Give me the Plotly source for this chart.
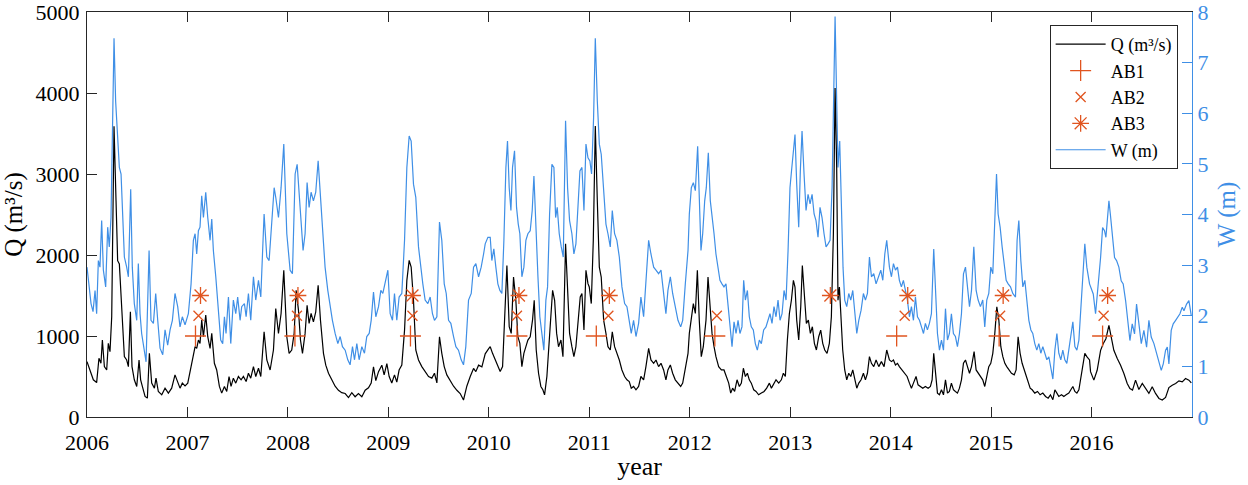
"""Discharge Q and water level W with the AB1/AB2/AB3 event markers, 2006-2016."""
import plotly.graph_objects as go

# discharge Q (m3/s)
q_year = [
    2006.000, 2006.030, 2006.063, 2006.096, 2006.119, 2006.139, 2006.153, 2006.173, 2006.196, 2006.212,
    2006.229, 2006.246, 2006.269, 2006.289, 2006.305, 2006.322, 2006.339, 2006.355, 2006.372, 2006.395,
    2006.412, 2006.432, 2006.448, 2006.471, 2006.495, 2006.518, 2006.534, 2006.551, 2006.578, 2006.601,
    2006.621, 2006.644, 2006.671, 2006.687, 2006.710, 2006.744, 2006.777, 2006.810, 2006.843, 2006.876,
    2006.903, 2006.926, 2006.949, 2006.976,
    2007.003, 2007.036, 2007.059, 2007.076, 2007.092, 2007.109, 2007.125, 2007.142, 2007.159, 2007.182,
    2007.202, 2007.225, 2007.242, 2007.268, 2007.291, 2007.318, 2007.341, 2007.368, 2007.391, 2007.414,
    2007.434, 2007.457, 2007.481, 2007.507, 2007.534, 2007.557, 2007.584, 2007.607, 2007.630, 2007.657,
    2007.680, 2007.707, 2007.730, 2007.763, 2007.790, 2007.823, 2007.856, 2007.879, 2007.906, 2007.932,
    2007.959, 2007.989,
    2008.012, 2008.038, 2008.062, 2008.082, 2008.105, 2008.125, 2008.145, 2008.171, 2008.191, 2008.211,
    2008.231, 2008.254, 2008.277, 2008.301, 2008.324, 2008.354, 2008.377, 2008.404, 2008.437, 2008.470,
    2008.503, 2008.536, 2008.570, 2008.603, 2008.636, 2008.669, 2008.702, 2008.736, 2008.769, 2008.802,
    2008.829, 2008.852, 2008.875, 2008.902, 2008.935, 2008.958, 2008.985,
    2009.008, 2009.034, 2009.061, 2009.084, 2009.107, 2009.134, 2009.161, 2009.184, 2009.207, 2009.227,
    2009.250, 2009.273, 2009.300, 2009.333, 2009.366, 2009.400, 2009.433, 2009.459, 2009.483, 2009.509,
    2009.532, 2009.556, 2009.582, 2009.615, 2009.649, 2009.682, 2009.715, 2009.748, 2009.781, 2009.815,
    2009.848, 2009.871, 2009.898, 2009.931, 2009.964, 2009.997,
    2010.014, 2010.037, 2010.064, 2010.090, 2010.113, 2010.137, 2010.157, 2010.180, 2010.203, 2010.223,
    2010.246, 2010.269, 2010.289, 2010.309, 2010.329, 2010.349, 2010.369, 2010.389, 2010.412, 2010.435,
    2010.452, 2010.472, 2010.495, 2010.518, 2010.538, 2010.555, 2010.578, 2010.595, 2010.615, 2010.635,
    2010.655, 2010.675, 2010.694, 2010.718, 2010.738, 2010.764, 2010.784, 2010.804, 2010.827, 2010.847,
    2010.867, 2010.887, 2010.910, 2010.927, 2010.947, 2010.967, 2010.987,
    2011.000, 2011.020, 2011.040, 2011.060, 2011.080, 2011.100, 2011.119, 2011.143, 2011.166, 2011.186,
    2011.209, 2011.229, 2011.252, 2011.275, 2011.299, 2011.325, 2011.352, 2011.375, 2011.398, 2011.418,
    2011.441, 2011.465, 2011.491, 2011.514, 2011.541, 2011.564, 2011.591, 2011.614, 2011.641, 2011.664,
    2011.690, 2011.714, 2011.740, 2011.763, 2011.783, 2011.807, 2011.830, 2011.856, 2011.883, 2011.910,
    2011.930, 2011.956, 2011.983,
    2011.996, 2012.016, 2012.036, 2012.056, 2012.076, 2012.095, 2012.115, 2012.135, 2012.162, 2012.182,
    2012.202, 2012.222, 2012.242, 2012.261, 2012.288, 2012.315, 2012.341, 2012.368, 2012.388, 2012.408,
    2012.427, 2012.447, 2012.471, 2012.494, 2012.514, 2012.534, 2012.554, 2012.574, 2012.593, 2012.613,
    2012.637, 2012.660, 2012.686, 2012.713, 2012.740, 2012.766, 2012.793, 2012.813, 2012.836, 2012.859,
    2012.886, 2012.912, 2012.932, 2012.952, 2012.972, 2012.992,
    2013.012, 2013.032, 2013.048, 2013.065, 2013.085, 2013.105, 2013.121, 2013.141, 2013.161, 2013.181,
    2013.201, 2013.221, 2013.241, 2013.261, 2013.284, 2013.304, 2013.324, 2013.344, 2013.367, 2013.390,
    2013.410, 2013.430, 2013.447, 2013.463, 2013.476, 2013.490, 2013.506, 2013.523, 2013.543, 2013.563,
    2013.583, 2013.603, 2013.623, 2013.643, 2013.663, 2013.683, 2013.706, 2013.729, 2013.749, 2013.769,
    2013.789, 2013.809, 2013.832, 2013.855, 2013.882, 2013.908, 2013.935, 2013.961, 2013.988,
    2014.008, 2014.028, 2014.048, 2014.068, 2014.087, 2014.114, 2014.141, 2014.164, 2014.187, 2014.207,
    2014.227, 2014.253, 2014.273, 2014.297, 2014.320, 2014.346, 2014.373, 2014.396, 2014.413, 2014.429,
    2014.446, 2014.466, 2014.486, 2014.506, 2014.526, 2014.546, 2014.566, 2014.585, 2014.605, 2014.625,
    2014.645, 2014.665, 2014.685, 2014.705, 2014.725, 2014.745, 2014.765, 2014.785, 2014.805, 2014.831,
    2014.851, 2014.871, 2014.894, 2014.917, 2014.937, 2014.957, 2014.977, 2014.997,
    2015.017, 2015.037, 2015.057, 2015.077, 2015.097, 2015.117, 2015.137, 2015.156, 2015.176, 2015.203,
    2015.230, 2015.249, 2015.269, 2015.289, 2015.309, 2015.329, 2015.349, 2015.369, 2015.389, 2015.409,
    2015.435, 2015.462, 2015.488, 2015.515, 2015.542, 2015.568, 2015.591, 2015.615, 2015.635, 2015.655,
    2015.674, 2015.701, 2015.724, 2015.747, 2015.774, 2015.794, 2015.814, 2015.834, 2015.854, 2015.874,
    2015.894, 2015.913, 2015.933, 2015.953, 2015.980,
    2015.990, 2016.023, 2016.056, 2016.090, 2016.116, 2016.143, 2016.173, 2016.196, 2016.222, 2016.256,
    2016.289, 2016.322, 2016.355, 2016.382, 2016.408, 2016.438, 2016.471, 2016.505, 2016.538, 2016.571,
    2016.604, 2016.637, 2016.671, 2016.704, 2016.737, 2016.770, 2016.803, 2016.837, 2016.870, 2016.903,
    2016.936, 2016.969, 2016.993,
]
q_flow = [
    684, 580, 459, 425, 725, 663, 950, 622, 580, 909,
    807, 1237, 3590, 2670, 1930, 1890, 1520, 1030, 745, 704,
    622, 1300, 622, 459, 377, 704, 459, 377, 254, 233,
    786, 418, 356, 479, 315, 274, 356, 295, 356, 520,
    418, 356, 418, 385,
    418, 622, 766, 868, 848, 950, 909, 1196, 991, 1257,
    991, 848, 1032, 663, 580, 377, 295, 377, 315, 500,
    377, 479, 418, 500, 459, 500, 438, 540, 479, 622,
    500, 602, 500, 1052, 704, 580, 827, 1339, 1032, 1278,
    1810, 991,
    786, 827, 1032, 1564, 1319, 950, 786, 1032, 1380, 1155,
    1278, 1175, 1298, 1626, 1196, 786, 640, 540, 460, 380,
    330, 300, 290, 240, 300, 250, 290, 250, 330, 360,
    420, 620, 450, 560, 640, 520, 660,
    500, 420, 520, 430, 580, 640, 1073, 1687, 1933, 1851,
    1441, 827, 704, 622, 560, 500, 480, 540, 420, 991,
    786, 622, 520, 450, 380, 330, 290, 210, 380, 500,
    600, 560, 640, 620, 780, 840,
    868, 786, 704, 622, 561, 622, 1237, 1871, 1114, 1032,
    1728, 1441, 991, 909, 622, 786, 868, 950, 991, 1196,
    1441, 827, 540, 377, 336, 274, 500, 868, 1196, 1564,
    1441, 1032, 868, 950, 745, 2138, 1523, 1032, 868, 745,
    868, 1196, 1482, 1523, 1073, 1810, 1646,
    1605, 1400, 2179, 3591, 2670, 1851, 1728, 1196, 1032, 868,
    827, 1052, 868, 786, 704, 581, 500, 459, 438, 356,
    377, 336, 377, 500, 459, 622, 848, 704, 663, 704,
    622, 663, 581, 459, 581, 643, 540, 459, 418, 377,
    418, 581, 786,
    1032, 1196, 1400, 1278, 1810, 1196, 745, 868, 1196, 1728,
    1360, 1032, 868, 745, 622, 581, 581, 500, 418, 295,
    356, 315, 459, 377, 418, 602, 500, 540, 459, 418,
    336, 315, 274, 295, 315, 356, 418, 356, 418, 459,
    418, 459, 540, 500, 950, 1278,
    1441, 1687, 1605, 1196, 950, 1360, 1871, 1523, 1155, 1196,
    1032, 1114, 909, 827, 991, 1073, 909, 827, 786, 909,
    1237, 2260, 4062, 3079, 1441, 1605, 1278, 827, 581, 459,
    540, 500, 581, 459, 356, 418, 459, 540, 459, 540,
    745, 663, 622, 704, 622, 684, 622, 827, 704,
    684, 704, 643, 663, 622, 581, 540, 500, 418, 356,
    418, 500, 397, 377, 356, 377, 356, 377, 459, 786,
    540, 295, 274, 336, 274, 459, 295, 315, 418, 336,
    315, 295, 356, 459, 663, 704, 622, 540, 622, 807,
    581, 540, 500, 459, 377, 500, 622, 663,
    786, 1032, 1360, 1196, 868, 745, 663, 622, 581, 540,
    520, 581, 991, 786, 663, 581, 500, 418, 356, 336,
    295, 315, 274, 295, 254, 233, 274, 213, 336, 295,
    254, 274, 254, 274, 295, 336, 377, 315, 295, 336,
    500, 663, 786, 745, 704,
    560, 455, 577, 823, 905, 966, 1130, 966, 823, 721,
    639, 536, 414, 352, 332, 455, 340, 414, 352, 291,
    373, 291, 229, 209, 242, 364, 393, 414, 446, 434,
    475, 455, 422,
]

# water level W (m)
w_year = [
    2006.000, 2006.020, 2006.040, 2006.060, 2006.080, 2006.096, 2006.113, 2006.129, 2006.146, 2006.163,
    2006.186, 2006.206, 2006.222, 2006.239, 2006.256, 2006.269, 2006.285, 2006.302, 2006.322, 2006.339,
    2006.355, 2006.372, 2006.395, 2006.412, 2006.435, 2006.451, 2006.471, 2006.495, 2006.511, 2006.528,
    2006.544, 2006.571, 2006.588, 2006.618, 2006.637, 2006.661, 2006.684, 2006.704, 2006.727, 2006.754,
    2006.777, 2006.803, 2006.827, 2006.850, 2006.876, 2006.903, 2006.926, 2006.949, 2006.976,
    2007.009, 2007.036, 2007.059, 2007.076, 2007.092, 2007.109, 2007.125, 2007.142, 2007.159, 2007.182,
    2007.202, 2007.225, 2007.242, 2007.258, 2007.282, 2007.308, 2007.331, 2007.351, 2007.368, 2007.384,
    2007.408, 2007.431, 2007.457, 2007.481, 2007.500, 2007.524, 2007.540, 2007.567, 2007.584, 2007.607,
    2007.630, 2007.657, 2007.680, 2007.707, 2007.730, 2007.763, 2007.790, 2007.813, 2007.839, 2007.863,
    2007.879, 2007.906, 2007.932, 2007.959, 2007.989,
    2008.022, 2008.045, 2008.072, 2008.092, 2008.111, 2008.131, 2008.151, 2008.171, 2008.191, 2008.211,
    2008.231, 2008.254, 2008.277, 2008.301, 2008.324, 2008.347, 2008.370, 2008.397, 2008.420, 2008.443,
    2008.470, 2008.497, 2008.520, 2008.543, 2008.570, 2008.596, 2008.619, 2008.643, 2008.663, 2008.686,
    2008.709, 2008.736, 2008.762, 2008.785, 2008.809, 2008.829, 2008.852, 2008.875, 2008.902, 2008.925,
    2008.945, 2008.968, 2008.995,
    2009.018, 2009.041, 2009.061, 2009.084, 2009.107, 2009.134, 2009.161, 2009.184, 2009.207, 2009.227,
    2009.250, 2009.273, 2009.300, 2009.323, 2009.343, 2009.366, 2009.393, 2009.416, 2009.439, 2009.459,
    2009.483, 2009.509, 2009.532, 2009.556, 2009.576, 2009.599, 2009.622, 2009.649, 2009.672, 2009.698,
    2009.725, 2009.748, 2009.771, 2009.798, 2009.825, 2009.848, 2009.871, 2009.898, 2009.924, 2009.948,
    2009.964, 2009.991,
    2010.014, 2010.030, 2010.050, 2010.070, 2010.090, 2010.110, 2010.130, 2010.150, 2010.170, 2010.186,
    2010.203, 2010.220, 2010.236, 2010.256, 2010.276, 2010.293, 2010.309, 2010.329, 2010.349, 2010.369,
    2010.389, 2010.412, 2010.432, 2010.449, 2010.469, 2010.489, 2010.508, 2010.528, 2010.548, 2010.568,
    2010.585, 2010.605, 2010.628, 2010.648, 2010.665, 2010.681, 2010.701, 2010.721, 2010.741, 2010.764,
    2010.784, 2010.804, 2010.827, 2010.847, 2010.867, 2010.887, 2010.907, 2010.927, 2010.947, 2010.967,
    2010.987,
    2011.006, 2011.023, 2011.043, 2011.060, 2011.080, 2011.100, 2011.119, 2011.143, 2011.166, 2011.186,
    2011.209, 2011.229, 2011.252, 2011.275, 2011.299, 2011.325, 2011.352, 2011.375, 2011.398, 2011.418,
    2011.441, 2011.465, 2011.491, 2011.514, 2011.541, 2011.564, 2011.591, 2011.614, 2011.641, 2011.664,
    2011.690, 2011.714, 2011.740, 2011.763, 2011.783, 2011.807, 2011.830, 2011.856, 2011.883, 2011.910,
    2011.930, 2011.956, 2011.983,
    2011.996, 2012.016, 2012.036, 2012.056, 2012.079, 2012.095, 2012.112, 2012.129, 2012.149, 2012.165,
    2012.185, 2012.205, 2012.222, 2012.242, 2012.261, 2012.281, 2012.301, 2012.321, 2012.341, 2012.361,
    2012.381, 2012.401, 2012.421, 2012.441, 2012.461, 2012.481, 2012.500, 2012.520, 2012.537, 2012.554,
    2012.574, 2012.593, 2012.613, 2012.633, 2012.653, 2012.673, 2012.693, 2012.713, 2012.736, 2012.759,
    2012.779, 2012.799, 2012.819, 2012.839, 2012.859, 2012.879, 2012.899, 2012.919, 2012.939, 2012.959,
    2012.979, 2012.998,
    2013.015, 2013.032, 2013.048, 2013.065, 2013.085, 2013.101, 2013.118, 2013.138, 2013.158, 2013.178,
    2013.198, 2013.218, 2013.238, 2013.257, 2013.277, 2013.297, 2013.317, 2013.337, 2013.357, 2013.377,
    2013.397, 2013.417, 2013.433, 2013.447, 2013.463, 2013.476, 2013.493, 2013.510, 2013.526, 2013.543,
    2013.563, 2013.583, 2013.603, 2013.623, 2013.643, 2013.663, 2013.683, 2013.706, 2013.729, 2013.749,
    2013.769, 2013.789, 2013.809, 2013.832, 2013.855, 2013.882, 2013.902, 2013.922, 2013.942, 2013.961,
    2013.988,
    2014.008, 2014.028, 2014.048, 2014.068, 2014.087, 2014.107, 2014.127, 2014.147, 2014.167, 2014.187,
    2014.207, 2014.227, 2014.247, 2014.267, 2014.287, 2014.307, 2014.327, 2014.346, 2014.366, 2014.386,
    2014.406, 2014.429, 2014.446, 2014.466, 2014.486, 2014.506, 2014.526, 2014.546, 2014.566, 2014.585,
    2014.605, 2014.625, 2014.645, 2014.665, 2014.685, 2014.705, 2014.725, 2014.745, 2014.765, 2014.785,
    2014.805, 2014.828, 2014.851, 2014.871, 2014.894, 2014.917, 2014.937, 2014.957, 2014.977, 2014.997,
    2015.017, 2015.037, 2015.054, 2015.070, 2015.090, 2015.110, 2015.130, 2015.150, 2015.170, 2015.193,
    2015.216, 2015.243, 2015.259, 2015.276, 2015.296, 2015.316, 2015.336, 2015.356, 2015.376, 2015.396,
    2015.415, 2015.435, 2015.455, 2015.475, 2015.495, 2015.515, 2015.535, 2015.555, 2015.575, 2015.595,
    2015.615, 2015.635, 2015.655, 2015.674, 2015.694, 2015.714, 2015.734, 2015.754, 2015.774, 2015.794,
    2015.814, 2015.834, 2015.854, 2015.874, 2015.894, 2015.913, 2015.933, 2015.953, 2015.980,
    2016.017, 2016.040, 2016.063, 2016.090, 2016.110, 2016.129, 2016.143, 2016.156, 2016.173, 2016.189,
    2016.206, 2016.229, 2016.249, 2016.272, 2016.295, 2016.315, 2016.339, 2016.362, 2016.382, 2016.405,
    2016.428, 2016.448, 2016.471, 2016.495, 2016.521, 2016.548, 2016.571, 2016.594, 2016.621, 2016.647,
    2016.671, 2016.694, 2016.714, 2016.737, 2016.754, 2016.770, 2016.793, 2016.813, 2016.837, 2016.860,
    2016.880, 2016.903, 2016.920, 2016.946, 2016.969, 2016.993,
]
w_level = [
    2.96, 2.63, 2.24, 2.08, 2.50, 2.04, 3.09, 2.96, 3.88, 2.90,
    2.57, 3.75, 3.36, 3.94, 5.58, 7.48, 6.24, 5.52, 4.93, 4.80,
    3.88, 3.16, 2.96, 2.77, 4.50, 2.96, 2.24, 1.91, 3.03, 2.04,
    1.65, 1.32, 1.09, 3.29, 1.91, 1.85, 2.44, 1.91, 1.36, 1.23,
    1.72, 1.42, 1.72, 1.91, 2.44, 2.18, 1.78, 1.98, 1.82,
    2.04, 2.63, 3.49, 3.62, 3.22, 3.68, 3.75, 4.37, 3.94, 4.44,
    3.94, 3.49, 3.91, 3.29, 2.77, 2.04, 1.52, 1.45, 1.98, 1.65,
    2.37, 1.45, 2.31, 2.04, 2.37, 1.91, 2.18, 2.24, 1.98, 2.44,
    1.91, 2.77, 2.31, 2.70, 2.37, 4.01, 3.16, 3.09, 3.75, 4.53,
    4.34, 3.94, 4.53, 5.39, 3.62,
    2.90, 2.83, 4.80, 4.99, 4.40, 4.01, 3.29, 3.62, 4.63, 4.14,
    4.44, 4.27, 4.44, 5.06, 4.34, 3.62, 2.96, 2.50, 2.18, 1.91,
    1.65, 1.45, 1.59, 1.39, 1.32, 1.13, 1.03, 1.39, 1.13, 1.45,
    1.13, 1.39, 1.26, 1.59, 1.65, 1.91, 2.47, 1.98, 2.18, 2.50,
    2.44, 2.63, 2.90,
    2.04, 1.91, 2.44, 1.91, 2.37, 2.44, 3.49, 4.93, 5.55, 5.45,
    4.60, 4.34, 3.36, 2.90, 2.63, 2.31, 2.24, 2.37, 2.04, 1.91,
    1.98, 3.85, 3.49, 2.63, 2.44, 1.91, 1.85, 1.59, 1.39, 1.32,
    1.13, 1.03, 1.39, 2.31, 2.44, 2.96, 3.03, 2.77, 2.96, 3.22,
    3.42, 3.55,
    3.55, 3.09, 3.32, 2.96, 2.63, 2.50, 2.44, 3.49, 4.93, 5.45,
    4.53, 4.08, 4.93, 5.26, 4.14, 3.81, 3.62, 2.77, 2.96, 3.49,
    3.62, 3.68, 4.08, 4.76, 3.62, 2.77, 1.98, 1.65, 1.32, 2.31,
    2.57, 4.01, 4.99, 4.93, 3.94, 4.14, 3.62, 3.36, 3.16, 5.85,
    4.53, 3.88, 3.62, 3.22, 3.42, 4.14, 4.86, 4.93, 4.08, 5.39,
    5.12,
    5.06, 4.80, 5.91, 7.48, 6.24, 5.39, 5.19, 4.53, 3.81, 3.62,
    3.36, 4.08, 3.62, 3.49, 3.16, 2.57, 2.24, 2.18, 1.91, 1.65,
    1.91, 1.59, 1.85, 2.37, 1.98, 2.63, 3.49, 3.22, 2.96, 2.90,
    2.83, 2.90, 2.50, 2.04, 2.50, 2.77, 2.44, 2.18, 1.91, 1.78,
    1.91, 2.63, 3.29,
    4.01, 4.53, 4.63, 4.47, 5.35, 4.53, 3.29, 3.62, 4.27, 4.53,
    5.22, 4.27, 4.01, 3.62, 3.22, 2.96, 2.70, 2.63, 2.57, 2.63,
    2.18, 1.72, 1.39, 1.88, 1.65, 1.91, 1.65, 1.78, 2.70, 2.31,
    2.50, 1.98, 1.78, 1.72, 1.45, 1.32, 1.52, 1.45, 1.72, 1.78,
    1.91, 2.04, 1.85, 2.18, 1.98, 2.31, 1.91, 2.04, 2.50, 2.31,
    3.29, 4.53,
    4.90, 5.19, 5.58, 4.60, 3.75, 4.86, 5.65, 4.80, 4.08, 4.40,
    4.21, 4.40, 4.01, 3.88, 3.55, 4.14, 3.94, 3.62, 3.36, 3.42,
    3.49, 4.53, 6.89, 7.91, 6.24, 4.93, 5.45, 4.27, 2.96, 2.31,
    2.18, 2.44, 2.31, 2.50, 2.04, 1.65, 1.91, 2.11, 2.44, 2.31,
    2.44, 3.16, 2.77, 2.83, 2.63, 2.77, 2.90, 2.70, 3.22, 3.49,
    2.96,
    2.77, 3.03, 2.90, 2.96, 2.70, 2.57, 2.70, 2.50, 2.31, 1.98,
    2.18, 1.91, 2.37, 1.98, 1.91, 1.78, 1.65, 1.85, 1.72, 1.85,
    2.04, 3.32, 2.44, 1.65, 1.32, 1.52, 1.32, 2.14, 1.52, 1.65,
    2.04, 1.65, 1.59, 1.39, 1.65, 2.04, 2.83, 2.96, 2.57, 2.18,
    2.50, 3.36, 2.50, 2.31, 2.18, 2.31, 1.78, 2.31, 2.44, 2.96,
    2.83, 3.88, 4.80, 4.01, 3.75, 3.36, 2.96, 2.70, 2.63, 2.57,
    2.44, 2.37, 3.49, 3.88, 3.09, 2.57, 2.70, 2.31, 1.91, 1.72,
    1.65, 1.45, 1.32, 1.45, 1.26, 1.39, 1.26, 1.13, 1.19, 0.99,
    0.75, 1.32, 1.65, 1.26, 1.13, 1.32, 1.13, 1.06, 1.32, 1.65,
    1.88, 1.39, 1.32, 1.52, 2.31, 2.77, 3.42, 2.96, 2.63,
    2.43, 2.04, 2.50, 3.15, 3.74, 3.68, 3.55, 3.87, 4.27, 3.97,
    3.61, 3.15, 3.09, 2.96, 2.69, 2.63, 2.30, 1.91, 1.51, 1.84,
    1.64, 2.23, 1.84, 1.45, 1.71, 1.38, 1.91, 1.58, 1.45, 1.25,
    1.05, 0.92, 1.05, 1.32, 1.38, 1.05, 1.71, 1.84, 1.91, 1.97,
    2.04, 2.17, 2.10, 2.23, 2.30, 2.00,
]

# event markers (plotted on the Q axis)
ab1_year = [2007.08, 2008.07, 2009.22, 2010.28, 2011.07, 2012.25, 2014.06, 2015.08, 2016.11]
ab2_year = [2007.11, 2008.09, 2009.24, 2010.28, 2011.19, 2012.27, 2014.14, 2015.09, 2016.12]
ab3_year = [2007.13, 2008.10, 2009.24, 2010.30, 2011.20, 2013.40, 2014.17, 2015.12, 2016.16]
ab1_q = 1000
ab2_q = 1250
ab3_q = 1500

year_ticks = list(range(2006, 2017))

assert len(q_year) == len(q_flow)
assert len(w_year) == len(w_level)

BLUE = "#3f8fe6"
ORANGE = "#e0541f"
AXIS = "#262626"
FONT = "Liberation Serif, Times New Roman, serif"

fig = go.Figure()
fig.add_trace(go.Scatter(x=q_year, y=q_flow, mode="lines", name="Q (m³/s)",
                         line=dict(color="black", width=1.2), yaxis="y2"))
fig.add_trace(go.Scatter(x=ab1_year, y=[ab1_q] * len(ab1_year), mode="markers", name="AB1",
                         marker=dict(symbol="cross-thin", size=15, color=ORANGE,
                                     line=dict(color=ORANGE, width=1.3)), yaxis="y2"))
fig.add_trace(go.Scatter(x=ab2_year, y=[ab2_q] * len(ab2_year), mode="markers", name="AB2",
                         marker=dict(symbol="x-thin", size=10, color=ORANGE,
                                     line=dict(color=ORANGE, width=1.3)), yaxis="y2"))
fig.add_trace(go.Scatter(x=ab3_year, y=[ab3_q] * len(ab3_year), mode="markers", name="AB3",
                         marker=dict(symbol="asterisk", size=14, color=ORANGE,
                                     line=dict(color=ORANGE, width=1.3)), yaxis="y2"))
fig.add_trace(go.Scatter(x=w_year, y=w_level, mode="lines", name="W (m)",
                         line=dict(color=BLUE, width=1.2), yaxis="y"))

fig.update_layout(
    width=1248, height=485,
    margin=dict(l=87, r=56, t=12, b=68),
    paper_bgcolor="white", plot_bgcolor="white",
    font=dict(family=FONT, size=22, color="black"),
    showlegend=True,
    legend=dict(x=0.987, y=0.968, xanchor="right", yanchor="top",
                bgcolor="white", bordercolor=AXIS, borderwidth=1,
                font=dict(size=18), tracegroupgap=0, itemwidth=50),
    xaxis=dict(range=[2006, 2017], tickvals=year_ticks, ticks="inside", ticklen=10,
               tickcolor=AXIS, showline=True, linecolor=AXIS, linewidth=1, mirror="ticks",
               showgrid=False, zeroline=False, ticklabelstandoff=6, automargin=False,
               ticklabeloverflow="allow",
               title=dict(text="year", font=dict(size=26), standoff=2)),
    yaxis=dict(side="right", range=[0, 8], dtick=1, ticks="inside", ticklen=10,
               tickcolor=BLUE, showline=True, linecolor=BLUE, linewidth=1,
               showgrid=False, zeroline=False, tickfont=dict(color=BLUE),
               ticklabelstandoff=0, automargin=False, ticklabeloverflow="allow",
               title=dict(text="W (m)", font=dict(size=25, color=BLUE), standoff=10)),
    yaxis2=dict(overlaying="y", side="left", range=[0, 5000], dtick=1000, ticks="inside",
                ticklen=10, tickcolor=AXIS, showline=True, linecolor=AXIS, linewidth=1,
                showgrid=False, zeroline=False, ticklabelstandoff=2, automargin=False,
                ticklabeloverflow="allow",
                title=dict(text="Q (m³/s)", font=dict(size=25), standoff=9)),
)

# the page body has a default 8px margin; remove it so the figure sits at 0,0
fig.write_html("out.html", config={"displayModeBar": False},
               post_script="document.body.style.margin = '0px';")
